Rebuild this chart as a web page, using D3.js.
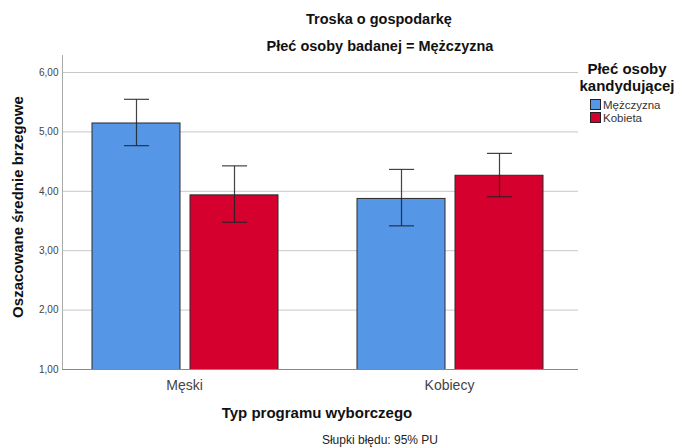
<!DOCTYPE html>
<html><head><meta charset="utf-8">
<script src="https://cdn.jsdelivr.net/npm/d3@7"></script>
<style>body{margin:0;background:#fff;} svg{display:block;font-family:"Liberation Sans",Arial,sans-serif;}</style>
</head><body>
<svg id="chart" width="674" height="448"></svg>
<script>
const categories = ["Męski", "Kobiecy"];
const series = ["Mężczyzna", "Kobieta"];
const means = [[5.15, 3.94], [3.88, 4.27]];      // [category][series]
const ciLow = [[4.76, 3.47], [3.41, 3.90]];
const ciHigh = [[5.54, 4.42], [4.36, 4.63]];
const yTicks = [1, 2, 3, 4, 5, 6];
const colors = ["#5596e6", "#d6002f"];

const svg = d3.select("#chart");
const fmt = v => d3.format(".2f")(v).replace(".", ",");

const y = d3.scaleLinear().domain([1, 6]).range([369, 72]);
const x0 = d3.scaleBand().domain(categories).range([52, 582]).padding(0);
const x1 = d3.scaleBand().domain(series).range([-93, 93]).paddingInner(10 / 98).paddingOuter(0);

// gridlines
svg.append("g").selectAll("line").data(yTicks).join("line")
  .attr("x1", 62).attr("x2", 578)
  .attr("y1", d => y(d) + 0.5).attr("y2", d => y(d) + 0.5)
  .attr("stroke", "#c8c8c8").attr("stroke-width", 1);

// y axis
const yAxis = d3.axisLeft(y).tickValues(yTicks).tickFormat(fmt).tickSize(0).tickPadding(4);
const gy = svg.append("g").attr("transform", "translate(62.5,0)").call(yAxis);
gy.select(".domain").remove();
gy.selectAll("text").attr("font-size", 10).attr("fill", "#444").attr("font-family", "Liberation Sans, Arial, sans-serif");
svg.append("line").attr("x1", 62.5).attr("x2", 62.5).attr("y1", 55).attr("y2", 369)
  .attr("stroke", "#aaa");

// bars
const data = [];
categories.forEach((c, i) => series.forEach((s, j) => data.push({c, s, j, m: means[i][j], lo: ciLow[i][j], hi: ciHigh[i][j]})));

const barG = svg.append("g");
barG.selectAll("rect").data(data).join("rect")
  .attr("x", d => x0(d.c) + x0.bandwidth() / 2 + x1(d.s) + 0.5)
  .attr("y", d => y(d.m) + 0.5)
  .attr("width", x1.bandwidth())
  .attr("height", d => y(1) - y(d.m))
  .attr("fill", d => colors[d.j])
  .attr("stroke", "#2a2a2a").attr("stroke-width", 1);

// x axis line
svg.append("line").attr("x1", 62).attr("x2", 578).attr("y1", 369.5).attr("y2", 369.5).attr("stroke", "#888");

// error bars
const eg = svg.append("g").attr("stroke", "#222").attr("stroke-width", 1.2).attr("stroke-opacity", 0.85);
data.forEach(d => {
  const cx = Math.round(x0(d.c) + x0.bandwidth() / 2 + x1(d.s) + x1.bandwidth() / 2) + 0.5;
  eg.append("line").attr("x1", cx).attr("x2", cx).attr("y1", y(d.hi)).attr("y2", y(d.lo));
  eg.append("line").attr("x1", cx - 12.5).attr("x2", cx + 12.5).attr("y1", y(d.hi)).attr("y2", y(d.hi));
  eg.append("line").attr("x1", cx - 12.5).attr("x2", cx + 12.5).attr("y1", y(d.lo)).attr("y2", y(d.lo));
});

// category labels
svg.append("g").selectAll("text").data(categories).join("text")
  .attr("x", d => x0(d) + x0.bandwidth() / 2).attr("y", 390)
  .attr("text-anchor", "middle").attr("font-size", 14).attr("fill", "#444").text(d => d);

// titles
svg.append("text").attr("x", 379).attr("y", 24).attr("text-anchor", "middle")
  .attr("font-size", 14.5).attr("font-weight", "bold").attr("fill", "#111").text("Troska o gospodarkę");
svg.append("text").attr("x", 380).attr("y", 51).attr("text-anchor", "middle")
  .attr("font-size", 14.5).attr("font-weight", "bold").attr("fill", "#111").text("Płeć osoby badanej = Mężczyzna");

// axis titles
svg.append("text").attr("transform", "translate(23,207) rotate(-90)").attr("text-anchor", "middle")
  .attr("font-size", 15).attr("font-weight", "bold").attr("fill", "#111").text("Oszacowane średnie brzegowe");
svg.append("text").attr("x", 317).attr("y", 418).attr("text-anchor", "middle")
  .attr("font-size", 15).attr("font-weight", "bold").attr("fill", "#111").text("Typ programu wyborczego");
svg.append("text").attr("x", 380).attr("y", 444).attr("text-anchor", "middle")
  .attr("font-size", 12).attr("fill", "#222").text("Słupki błędu: 95% PU");

// legend
const lg = svg.append("g");
lg.append("text").attr("x", 627).attr("y", 74).attr("text-anchor", "middle")
  .attr("font-size", 15).attr("font-weight", "bold").attr("fill", "#111").text("Płeć osoby");
lg.append("text").attr("x", 627).attr("y", 91).attr("text-anchor", "middle")
  .attr("font-size", 15).attr("font-weight", "bold").attr("fill", "#111").text("kandydującej");
series.forEach((s, j) => {
  lg.append("rect").attr("x", 590.5).attr("y", 99.5 + j * 13).attr("width", 10).attr("height", 10)
    .attr("fill", colors[j]).attr("stroke", "#222");
  lg.append("text").attr("x", 603).attr("y", 109 + j * 13).attr("font-size", 11.5).attr("fill", "#333").text(s);
});
</script>
</body></html>
